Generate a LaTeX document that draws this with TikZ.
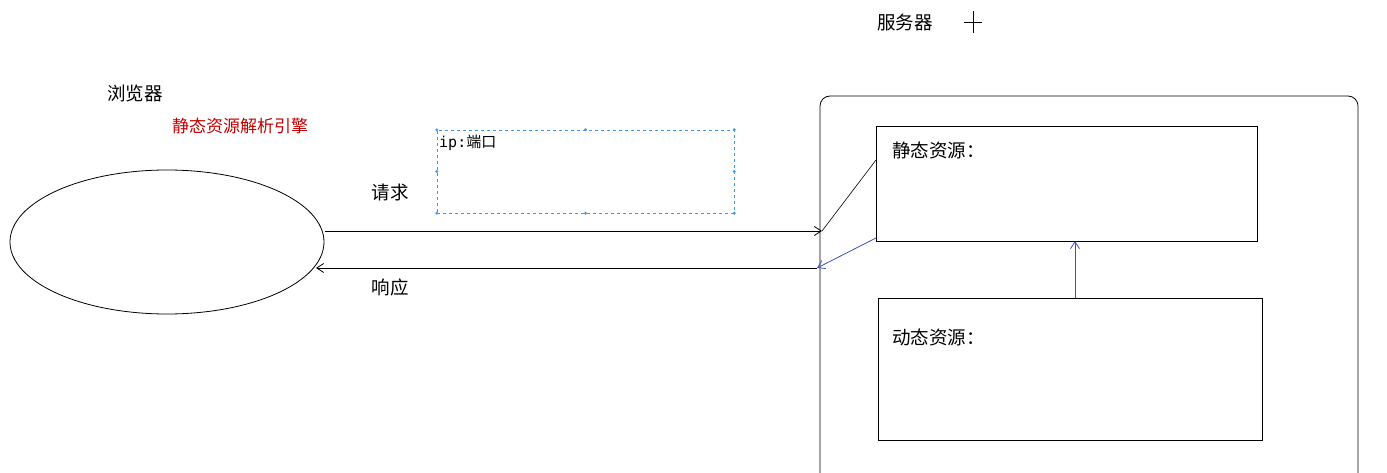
\documentclass[tikz,border=0pt]{standalone}
\usepackage{fontspec}
\setmainfont{Noto Sans CJK SC}
\newfontfamily\monolat{DejaVu Sans Mono}
\usetikzlibrary{arrows.meta,calc,shapes.geometric}
\definecolor{selblue}{RGB}{70,150,230}
\definecolor{arrblue}{RGB}{60,80,190}
\tikzset{
  lbl/.style={font=\fontsize{18.5}{20}\selectfont, inner sep=0pt},
  boxs/.style={draw=black, line width=0.8pt},
  ar/.style={-{Straight Barb[length=7pt,width=9pt]}, line width=0.8pt}
}
\begin{document}
\begin{tikzpicture}[x=1pt,y=-1pt]
\useasboundingbox (0,0) rectangle (1387,473);
\node[lbl] (srv) at (905,22) {服务器};
\coordinate (cr) at (973,22);
\draw[line width=0.8pt] ($(cr)+(-9,0)$) -- ($(cr)+(9,0)$) ($(cr)+(0,-11)$) -- ($(cr)+(0,11)$);
\node[lbl] (br) at (135,93) {浏览器};
\node[lbl, font=\fontsize{17}{19}\selectfont, text=red!75!black] (eng) at (240,126) {静态资源解析引擎};
\node[draw=selblue, dashed, minimum width=297pt, minimum height=83pt, inner sep=0pt] (ip) at (585.5,171.5) {};
\foreach \a in {north west,north,north east,east,south east,south,south west,west}
  \fill[selblue] (ip.\a) circle (1.6pt);
\node[anchor=north west, inner sep=0pt, font=\fontsize{15}{17}\selectfont] (iplbl) at (439,135) {{\monolat ip:}端口};
\node[lbl] (req) at (390,192) {请求};
\node[draw, ellipse, minimum width=314pt, minimum height=144pt, line width=0.8pt] (el) at (167,242) {};
\draw[boxs, rounded corners=10pt] (820,480) -- (820,96) -- (1358,96) -- (1358,480);
\node[boxs, minimum width=381pt, minimum height=115pt, inner sep=0pt] (st) at (1066.5,183.5) {};
\node[lbl, anchor=west] (stl) at (892,150) {静态资源：};
\node[boxs, minimum width=384pt, minimum height=142pt, inner sep=0pt] (dy) at (1070,369) {};
\node[lbl, anchor=west] (dyl) at (892,337) {动态资源：};
\coordinate (a1) at (822,231);
\coordinate (r0) at (817,268);
\draw[ar] (325,231) -- (a1);
\draw[ar] (r0) -- (316,268);
\node[lbl] (resp) at (390,287) {响应};
\draw[line width=0.6pt] (876,160) -- (a1);
\draw[ar, draw=arrblue] (876,238) -- (r0);
\draw[ar, draw=arrblue] (1075,298) -- (1075,241);
\end{tikzpicture}
\end{document}
